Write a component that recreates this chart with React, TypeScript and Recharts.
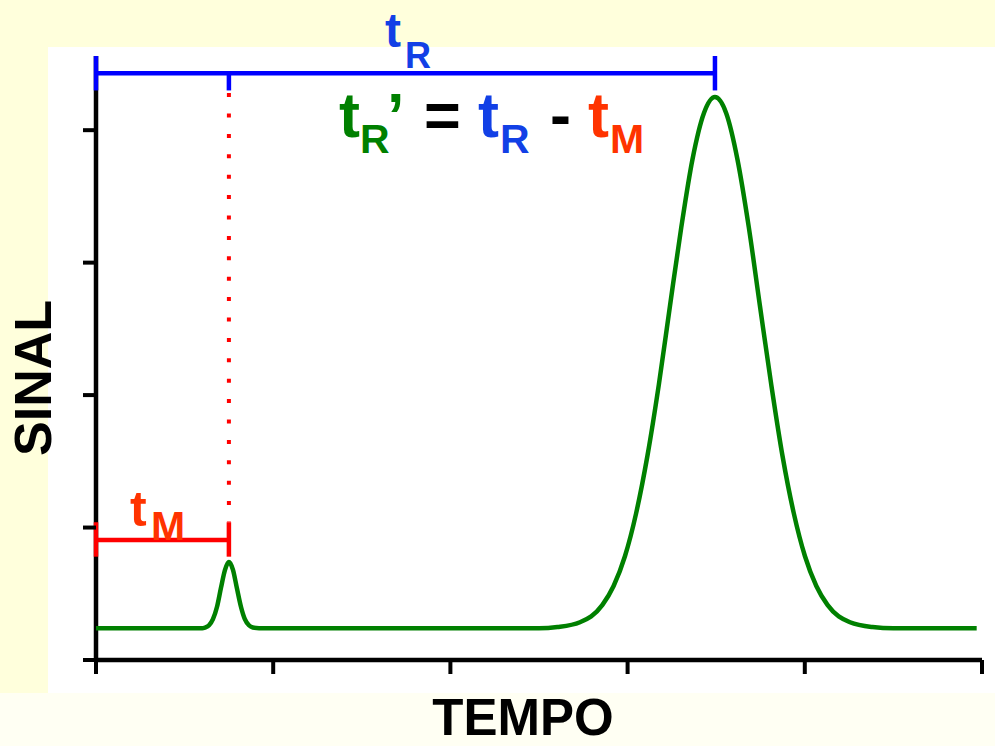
import React from "react";
import {
  ComposedChart,
  Line,
  XAxis,
  YAxis,
  ReferenceLine,
} from "recharts";

// tempo (x) and sinal (y)
const tempo = [
  0, 0.6, 0.615, 0.638, 0.66, 0.683, 0.705, 0.728, 0.75, 0.773, 0.795, 0.818,
  0.84, 0.863, 0.885, 0.92, 2.5, 2.604, 2.731, 2.858, 2.921, 2.985, 3.048,
  3.112, 3.176, 3.239, 3.303, 3.366, 3.43, 3.493, 3.557, 3.62, 3.684, 3.747,
  3.811, 3.874, 3.938, 4.001, 4.065, 4.128, 4.255, 4.382, 4.5, 4.97,
];
const sinal = [
  0.24, 0.24, 0.245, 0.262, 0.308, 0.402, 0.543, 0.681, 0.74, 0.681, 0.543,
  0.402, 0.308, 0.262, 0.245, 0.24, 0.24, 0.249, 0.285, 0.416, 0.559, 0.783,
  1.107, 1.542, 2.076, 2.672, 3.267, 3.779, 4.126, 4.25, 4.126, 3.779, 3.267,
  2.672, 2.076, 1.542, 1.107, 0.783, 0.559, 0.416, 0.285, 0.249, 0.24, 0.24,
];

const xTicks = [0, 1, 2, 3, 4, 5];
const yTicks = [0, 1, 2, 3, 4];
const yMax = 4.56;

// retention times and the bar heights used to mark them
const tM = 0.75;
const tR = 3.493;
const barraTR = 4.43;
const barraTM = 0.906;

const data = tempo.map((t, i) => ({ tempo: t, sinal: sinal[i] }));

const FONT = "'Liberation Sans', Arial, Helvetica, sans-serif";
const AZUL = "#1240E6";
const VERDE = "#008000";
const LARANJA = "#FF3300";

const NoLabel = () => <g />;

export default function App() {
  return (
    <div
      style={{
        position: "absolute",
        left: 0,
        top: 0,
        width: 995,
        height: 746,
        background: "#FFFFDC",
        overflow: "hidden",
      }}
    >
      <div
        style={{
          position: "absolute",
          left: 48,
          top: 47,
          width: 947,
          height: 646,
          background: "#FFFFFF",
        }}
      />
      <div
        style={{
          position: "absolute",
          left: 0,
          top: 693,
          width: 995,
          height: 53,
          background: "#FFFFF3",
        }}
      />
      <div style={{ position: "absolute", left: 0, top: 0 }}>
        <ComposedChart
          width={995}
          height={746}
          data={data}
          margin={{ top: 56, right: 13, bottom: 56, left: 36 }}
        >
          <XAxis
            type="number"
            dataKey="tempo"
            domain={[0, 5]}
            ticks={xTicks}
            tick={NoLabel}
            tickSize={14}
            height={30}
            axisLine={{ stroke: "#000", strokeWidth: 4.5 }}
            tickLine={{ stroke: "#000", strokeWidth: 4 }}
          />
          <YAxis
            type="number"
            domain={[0, yMax]}
            ticks={yTicks}
            tick={NoLabel}
            tickSize={13}
            width={60}
            axisLine={false}
            tickLine={{ stroke: "#000", strokeWidth: 4 }}
          />
          {/* y axis line, drawn as a segment so the coloured ticks sit on top */}
          <ReferenceLine
            segment={[{ x: 0, y: 0 }, { x: 0, y: yMax }]}
            stroke="#000"
            strokeWidth={4.5}
            ifOverflow="visible"
          />
          <Line
            type="monotone"
            dataKey="sinal"
            stroke={VERDE}
            strokeWidth={4.5}
            dot={false}
            isAnimationActive={false}
          />
          {/* tR bar */}
          <ReferenceLine
            segment={[{ x: 0, y: barraTR }, { x: tR, y: barraTR }]}
            stroke="#0000FF"
            strokeWidth={4.5}
            ifOverflow="visible"
          />
          <ReferenceLine
            segment={[{ x: 0, y: yMax }, { x: 0, y: 4.3 }]}
            stroke="#0000FF"
            strokeWidth={4.5}
            ifOverflow="visible"
          />
          <ReferenceLine
            segment={[{ x: tR, y: yMax }, { x: tR, y: 4.3 }]}
            stroke="#0000FF"
            strokeWidth={4.5}
            ifOverflow="visible"
          />
          <ReferenceLine
            segment={[{ x: tM, y: barraTR }, { x: tM, y: 4.3 }]}
            stroke="#0000FF"
            strokeWidth={4.5}
            ifOverflow="visible"
          />
          {/* dotted drop from tR bar to tM */}
          <ReferenceLine
            segment={[{ x: tM, y: 4.28 }, { x: tM, y: 1.04 }]}
            stroke="#FF0000"
            strokeWidth={4}
            strokeDasharray="4 16.4"
            ifOverflow="visible"
          />
          {/* tM bar */}
          <ReferenceLine
            segment={[{ x: 0, y: barraTM }, { x: tM, y: barraTM }]}
            stroke="#FF0000"
            strokeWidth={4.5}
            ifOverflow="visible"
          />
          <ReferenceLine
            segment={[{ x: 0, y: 1.04 }, { x: 0, y: 0.78 }]}
            stroke="#FF0000"
            strokeWidth={4.5}
            ifOverflow="visible"
          />
          <ReferenceLine
            segment={[{ x: tM, y: 1.04 }, { x: tM, y: 0.78 }]}
            stroke="#FF0000"
            strokeWidth={4.5}
            ifOverflow="visible"
          />
        </ComposedChart>
      </div>
      <svg
        width={995}
        height={746}
        style={{ position: "absolute", left: 0, top: 0, pointerEvents: "none" }}
        fontFamily={FONT}
        fontWeight="bold"
      >
        {/* tR label */}
        <text fill={AZUL}>
          <tspan x={385} y={47} fontSize={48}>t</tspan>
          <tspan x={405} y={68} fontSize={36}>R</tspan>
        </text>
        {/* formula */}
        <text>
          <tspan x={339} y={137} fontSize={63} fill={VERDE}>t</tspan>
          <tspan x={360} y={153} fontSize={41} fill={VERDE}>R</tspan>
          <tspan x={387} y={137} fontSize={63} fill={VERDE}>’</tspan>
          <tspan x={424} y={137} fontSize={63} fill="#000">=</tspan>
          <tspan x={478} y={137} fontSize={63} fill={AZUL}>t</tspan>
          <tspan x={500} y={153} fontSize={41} fill={AZUL}>R</tspan>
          <tspan x={550} y={137} fontSize={63} fill="#000">-</tspan>
          <tspan x={588} y={137} fontSize={63} fill={LARANJA}>t</tspan>
          <tspan x={610} y={153} fontSize={41} fill={LARANJA}>M</tspan>
        </text>
        {/* tM label */}
        <text fill={LARANJA}>
          <tspan x={130} y={526} fontSize={50}>t</tspan>
          <tspan x={151} y={540} fontSize={41}>M</tspan>
        </text>
        {/* axis titles */}
        <text
          x={523}
          y={735}
          fontSize={51}
          textAnchor="middle"
          fill="#000"
        >
          TEMPO
        </text>
        <text
          transform="translate(51 378) rotate(-90)"
          fontSize={52}
          textAnchor="middle"
          fill="#000"
        >
          SINAL
        </text>
      </svg>
    </div>
  );
}
